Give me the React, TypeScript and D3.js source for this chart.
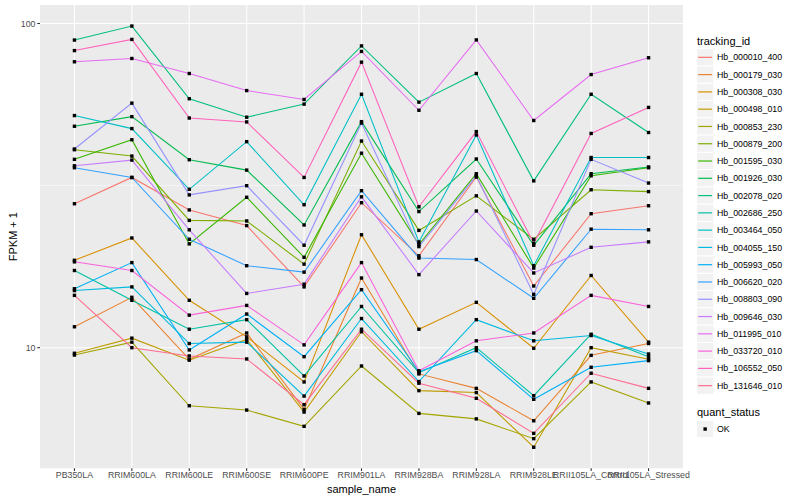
import React from "react";
import * as d3 from "d3";

const samples = [
  "PB350LA", "RRIM600LA", "RRIM600LE", "RRIM600SE", "RRIM600PE", "RRIM901LA",
  "RRIM928BA", "RRIM928LA", "RRIM928LE", "RRII105LA_Control", "RRII105LA_Stressed",
];

const trackingIds = [
  "Hb_000010_400", "Hb_000179_030", "Hb_000308_030", "Hb_000498_010", "Hb_000853_230",
  "Hb_000879_200", "Hb_001595_030", "Hb_001926_030", "Hb_002078_020", "Hb_002686_250",
  "Hb_003464_050", "Hb_004055_150", "Hb_005993_050", "Hb_006620_020", "Hb_008803_090",
  "Hb_009646_030", "Hb_011995_010", "Hb_033720_010", "Hb_106552_050", "Hb_131646_010",
];

const hb_000010_400 = [27.8, 33.5, 26.6, 23.8, 15.4, 28.0, 19.2, 33.6, 15.5, 25.9, 27.4];
const hb_000179_030 = [11.6, 14.3, 9.21, 11.1, 6.45, 16.4, 8.3, 7.49, 5.95, 9.47, 10.3];
const hb_000308_030 = [18.6, 21.8, 14.0, 10.8, 7.84, 22.3, 11.4, 13.8, 9.96, 16.7, 10.4];
const hb_000498_010 = [9.61, 10.7, 9.15, 10.6, 6.33, 11.2, 7.37, 7.27, 4.93, 10.0, 9.21];
const hb_000853_230 = [9.49, 10.4, 6.62, 6.42, 5.72, 8.78, 6.27, 6.03, 5.24, 7.84, 6.75];
const hb_000879_200 = [40.8, 39.0, 24.7, 24.6, 18.1, 43.4, 23.0, 29.4, 21.6, 30.7, 30.3];
const hb_001595_030 = [38.1, 43.8, 20.9, 29.1, 19.0, 39.8, 20.8, 34.4, 17.6, 33.9, 35.9];
const hb_001926_030 = [48.2, 51.6, 38.0, 35.3, 23.9, 49.8, 26.3, 38.2, 20.7, 34.4, 36.1];
const hb_002078_020 = [88.9, 98.2, 58.6, 51.4, 56.4, 85.3, 57.2, 70.1, 32.7, 60.5, 46.1];
const hb_002686_250 = [17.3, 14.0, 11.4, 12.2, 8.18, 13.4, 8.37, 10.0, 7.11, 11.0, 9.38];
const hb_003464_050 = [52.0, 47.4, 30.8, 43.2, 27.6, 60.5, 21.2, 45.3, 17.9, 38.6, 38.6];
const hb_004055_150 = [15.0, 15.4, 10.3, 10.4, 7.09, 12.3, 7.86, 12.2, 10.5, 10.9, 9.56];
const hb_005993_050 = [15.2, 18.3, 9.84, 12.7, 9.38, 15.1, 8.43, 9.79, 6.93, 8.7, 9.12];
const hb_006620_020 = [35.9, 33.5, 21.6, 17.9, 17.1, 30.5, 18.9, 18.7, 14.2, 23.2, 23.1];
const hb_008803_090 = [41.0, 56.8, 29.6, 31.6, 20.7, 49.3, 20.5, 33.9, 14.6, 38.1, 32.2];
const hb_009646_030 = [36.4, 37.9, 23.1, 14.7, 15.7, 29.2, 16.8, 26.4, 17.0, 20.4, 21.2];
const hb_011995_010 = [76.2, 78.0, 70.1, 62.1, 58.3, 82.0, 54.0, 89.0, 50.2, 69.6, 78.4];
const hb_033720_010 = [18.4, 17.3, 12.6, 13.5, 10.2, 18.3, 8.49, 10.5, 11.1, 14.5, 13.4];
const hb_106552_050 = [82.5, 89.3, 51.1, 49.7, 33.5, 76.0, 27.2, 46.4, 21.0, 45.8, 55.1];
const hb_131646_010 = [14.5, 10.0, 9.43, 9.23, 6.67, 11.4, 7.77, 6.98, 5.44, 8.34, 7.49];

const seriesValues = [
  hb_000010_400, hb_000179_030, hb_000308_030, hb_000498_010, hb_000853_230,
  hb_000879_200, hb_001595_030, hb_001926_030, hb_002078_020, hb_002686_250,
  hb_003464_050, hb_004055_150, hb_005993_050, hb_006620_020, hb_008803_090,
  hb_009646_030, hb_011995_010, hb_033720_010, hb_106552_050, hb_131646_010,
];

const palette = [
  "#F8766D", "#EA8331", "#D89000", "#C09B00", "#A3A500", "#7CAE00", "#39B600",
  "#00BB4E", "#00BF7D", "#00C1A3", "#00BFC4", "#00BAE0", "#00B0F6", "#35A2FF",
  "#9590FF", "#C77CFF", "#E76BF3", "#FA62DB", "#FF62BC", "#FF6C91",
];

const yTicks = [10, 100];
const yMinor = [Math.pow(10, 1.5)];
const statusLevels = ["OK"];

const W = 800;
const H = 500;
const P = { left: 40, right: 683, top: 5, bottom: 468.3 };
const FONT = "'Liberation Sans', Arial, Helvetica, sans-serif";

export default function App() {
  const all = seriesValues.flat();
  const lo = Math.log10(d3.min(all) as number);
  const hi = Math.log10(d3.max(all) as number);
  const pad = (hi - lo) * 0.05;
  const y = d3
    .scaleLog()
    .domain([Math.pow(10, lo - pad), Math.pow(10, hi + pad)])
    .range([P.bottom, P.top]);
  const x = d3.scalePoint<string>().domain(samples).range([P.left, P.right]).padding(0.6);

  const line = d3
    .line<number>()
    .x((_, i) => x(samples[i]) as number)
    .y((v) => y(v));

  const keyH = 17.28;
  const keyX = 696.5;
  const key0 = 48.7;
  const ps = 3.4;

  return (
    <svg
      width={W}
      height={H}
      style={{ position: "absolute", left: 0, top: 0, background: "#fff" }}
      fontFamily={FONT}
    >
      <rect x={0} y={0} width={W} height={H} fill="#fff" />
      <rect x={P.left} y={P.top} width={P.right - P.left} height={P.bottom - P.top} fill="#EBEBEB" />
      {yMinor.map((t) => (
        <line key={"m" + t} x1={P.left} x2={P.right} y1={y(t)} y2={y(t)} stroke="#fff" strokeWidth={0.55} />
      ))}
      {yTicks.map((t) => (
        <line key={"g" + t} x1={P.left} x2={P.right} y1={y(t)} y2={y(t)} stroke="#fff" strokeWidth={1.07} />
      ))}
      {samples.map((s) => (
        <line key={"gx" + s} x1={x(s)} x2={x(s)} y1={P.top} y2={P.bottom} stroke="#fff" strokeWidth={1.07} />
      ))}

      {seriesValues.map((vals, i) => (
        <path key={"l" + i} d={line(vals) as string} fill="none" stroke={palette[i]} strokeWidth={1.07} />
      ))}
      {seriesValues.map((vals, i) =>
        vals.map((v, j) => (
          <rect
            key={"p" + i + "_" + j}
            x={(x(samples[j]) as number) - ps / 2}
            y={y(v) - ps / 2}
            width={ps}
            height={ps}
            fill="#000"
          />
        ))
      )}

      {yTicks.map((t) => (
        <g key={"yt" + t}>
          <line x1={P.left - 2.74} x2={P.left} y1={y(t)} y2={y(t)} stroke="#333" strokeWidth={1.07} />
          <text x={P.left - 4.5} y={y(t)} dy="0.35em" textAnchor="end" fontSize={8.8} fill="#4D4D4D">
            {t}
          </text>
        </g>
      ))}
      {samples.map((s) => (
        <g key={"xt" + s}>
          <line x1={x(s)} x2={x(s)} y1={P.bottom} y2={P.bottom + 2.74} stroke="#333" strokeWidth={1.07} />
          <text x={x(s)} y={477.5} textAnchor="middle" fontSize={8.8} fill="#4D4D4D">
            {s}
          </text>
        </g>
      ))}
      <text x={(P.left + P.right) / 2} y={492.5} textAnchor="middle" fontSize={11} fill="#000">
        sample_name
      </text>
      <text
        transform={`translate(16.5, ${(P.top + P.bottom) / 2}) rotate(-90)`}
        textAnchor="middle"
        fontSize={11}
        fill="#000"
      >
        FPKM + 1
      </text>

      <text x={697} y={44.5} fontSize={11} fill="#000">
        tracking_id
      </text>
      {trackingIds.map((id, i) => {
        const ty = key0 + i * keyH;
        return (
          <g key={"k" + id}>
            <rect x={keyX} y={ty} width={keyH} height={keyH} fill="#F2F2F2" stroke="#fff" strokeWidth={1} />
            <line x1={keyX + 1.7} x2={keyX + keyH - 1.7} y1={ty + keyH / 2} y2={ty + keyH / 2} stroke={palette[i]} strokeWidth={1.2} />
            <text x={717} y={ty + keyH / 2} dy="0.35em" fontSize={8.8} fill="#000">
              {id}
            </text>
          </g>
        );
      })}
      <text x={697} y={415.5} fontSize={11} fill="#000">
        quant_status
      </text>
      {statusLevels.map((s, i) => {
        const ty = 420.4 + i * keyH;
        return (
          <g key={"s" + s}>
            <rect x={keyX} y={ty} width={keyH} height={keyH} fill="#F2F2F2" stroke="#fff" strokeWidth={1} />
            <rect x={keyX + keyH / 2 - ps / 2} y={ty + keyH / 2 - ps / 2} width={ps} height={ps} fill="#000" />
            <text x={717} y={ty + keyH / 2} dy="0.35em" fontSize={8.8} fill="#000">
              {s}
            </text>
          </g>
        );
      })}
    </svg>
  );
}
